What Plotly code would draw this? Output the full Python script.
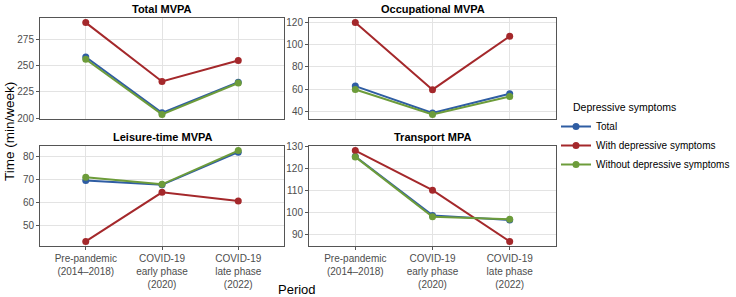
import plotly.graph_objects as go

periods = ["Pre-pandemic<br>(2014–2018)", "COVID-19<br>early phase<br>(2020)", "COVID-19<br>late phase<br>(2022)"]
groups = ["Total", "With depressive symptoms", "Without depressive symptoms"]
colors = ["#2F5DA3", "#A4282B", "#6D9C3A"]

panels = ["Total MVPA", "Occupational MVPA", "Leisure-time MVPA", "Transport MPA"]

total_mvpa = {
    "Total": [258.3, 205.0, 234.2],
    "With depressive symptoms": [291.2, 235.0, 255.0],
    "Without depressive symptoms": [256.2, 203.5, 233.5],
}
occupational_mvpa = {
    "Total": [62.7, 38.6, 55.8],
    "With depressive symptoms": [119.7, 59.5, 107.4],
    "Without depressive symptoms": [59.6, 37.3, 53.4],
}
leisure_mvpa = {
    "Total": [69.5, 67.6, 81.9],
    "With depressive symptoms": [42.8, 64.3, 60.5],
    "Without depressive symptoms": [70.9, 67.8, 82.6],
}
transport_mpa = {
    "Total": [125.5, 98.6, 96.5],
    "With depressive symptoms": [128.2, 110.1, 86.7],
    "Without depressive symptoms": [125.3, 98.0, 96.8],
}
panel_data = [total_mvpa, occupational_mvpa, leisure_mvpa, transport_mpa]
panel_ticks = [[200, 225, 250, 275], [40, 60, 80, 100, 120], [50, 60, 70, 80], [90, 100, 110, 120, 130]]

W, H = 736, 297
ml, mr, mt, mb = 40, 180, 18, 51
pw = W - ml - mr
ph = H - mt - mb

def px_x(p):
    return (p - ml) / pw

def px_y(p):
    return (H - mb - p) / ph

xdom = [[0, px_x(284)], [px_x(309), 1]]
ydom = [[px_y(119), 1], [0, px_y(146)]]

fig = go.Figure()
layout = {}
annotations = []
for i, (name, data, ticks) in enumerate(zip(panels, panel_data, panel_ticks)):
    r, c = divmod(i, 2)
    n = i + 1
    xa = "x" if n == 1 else f"x{n}"
    ya = "y" if n == 1 else f"y{n}"
    for g, col in zip(groups, colors):
        fig.add_trace(go.Scatter(
            x=periods, y=data[g], mode="lines+markers", name=g,
            line=dict(color=col, width=2), marker=dict(color=col, size=7),
            showlegend=(i == 0), legendgroup=g, xaxis=xa, yaxis=ya,
        ))
    vals = [v for g in groups for v in data[g]]
    lo, hi = min(vals), max(vals)
    pad = (hi - lo) * 0.05
    layout[f"xaxis{'' if n == 1 else n}"] = dict(
        domain=xdom[c], anchor=ya, type="category", categoryorder="array",
        categoryarray=periods, range=[-0.6, 2.6], showgrid=True, gridcolor="#E3E3E3",
        gridwidth=1, showline=True, linecolor="#555555", linewidth=1, mirror=True,
        showticklabels=(r == 1), ticks="outside" if r == 1 else "", ticklen=3,
        tickcolor="#555555", tickfont=dict(size=10, color="#4D4D4D"), zeroline=False,
        automargin=False,
    )
    layout[f"yaxis{'' if n == 1 else n}"] = dict(
        domain=ydom[r], anchor=xa, range=[lo - pad, hi + pad], tickvals=ticks,
        showgrid=True, gridcolor="#E3E3E3", gridwidth=1, showline=True,
        linecolor="#555555", linewidth=1, mirror=True, ticks="outside", ticklen=3,
        tickcolor="#555555", tickfont=dict(size=10, color="#4D4D4D"), zeroline=False,
        automargin=False,
    )
    annotations.append(dict(
        text=f"<b>{name}</b>", xref="paper", yref="paper",
        x=(xdom[c][0] + xdom[c][1]) / 2, y=ydom[r][1], yshift=1,
        xanchor="center", yanchor="bottom", showarrow=False,
        font=dict(size=11, color="black"),
    ))

annotations.append(dict(text="Time (min/week)", xref="paper", yref="paper", x=px_x(9), y=0.5,
                        textangle=-90, showarrow=False, xanchor="center", yanchor="middle",
                        font=dict(size=13.5, color="black")))
annotations.append(dict(text="Period", xref="paper", yref="paper", x=px_x(297), y=px_y(289),
                        showarrow=False, xanchor="center", yanchor="middle",
                        font=dict(size=13, color="black")))
annotations.append(dict(text="Depressive symptoms", xref="paper", yref="paper", x=px_x(571), y=px_y(107),
                        showarrow=False, xanchor="left", yanchor="middle",
                        font=dict(size=10.5, color="black")))

fig.update_layout(
    **layout,
    annotations=annotations,
    width=W, height=H,
    margin=dict(l=ml, r=mr, t=mt, b=mb, autoexpand=False),
    paper_bgcolor="white", plot_bgcolor="white",
    font=dict(family="Liberation Sans, Arial, sans-serif", color="black"),
    legend=dict(
        x=1.0, y=px_y(112), xanchor="left", yanchor="top",
        font=dict(size=10), itemwidth=30, tracegroupgap=0,
        bgcolor="rgba(0,0,0,0)",
    ),
)

fig.write_html("out.html")
